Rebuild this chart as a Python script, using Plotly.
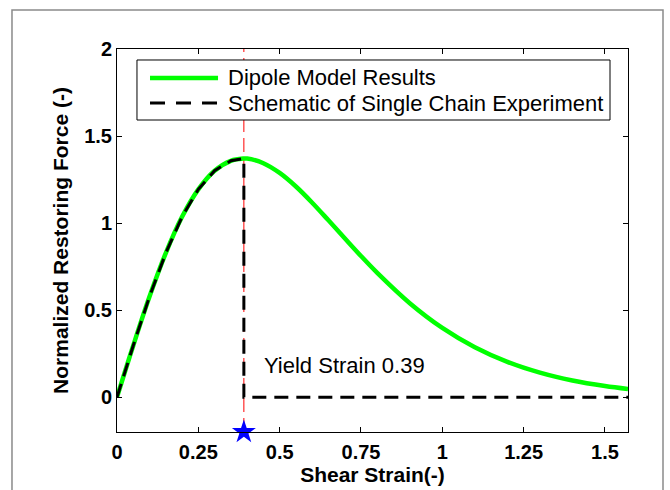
import plotly.graph_objects as go

# Data
strain = [0.0, 0.05, 0.1, 0.15, 0.2, 0.25, 0.3, 0.35, 0.39, 0.4, 0.45, 0.5, 0.55, 0.6,
          0.65, 0.7, 0.75, 0.8, 0.9, 1.0, 1.1, 1.2, 1.3, 1.4, 1.5, 1.5708]
force = [0.0, 0.297, 0.578, 0.828, 1.036, 1.194, 1.301, 1.358, 1.371, 1.371, 1.344, 1.288,
         1.210, 1.117, 1.016, 0.913, 0.811, 0.714, 0.540, 0.398, 0.287, 0.203, 0.141,
         0.096, 0.064, 0.047]
yield_strain = 0.39
x_max = 1.5708
schem_x = [0.0, 0.05, 0.1, 0.15, 0.2, 0.25, 0.3, 0.35, 0.39, 0.39, 1.5708]
schem_y = [0.0, 0.297, 0.578, 0.828, 1.036, 1.194, 1.301, 1.358, 1.371, 0.0, 0.0]
x_ticks = [0, 0.25, 0.5, 0.75, 1, 1.25, 1.5]
x_ticktext = ["0", "0.25", "0.5", "0.75", "1", "1.25", "1.5"]
y_ticks = [0, 0.5, 1, 1.5, 2]
y_ticktext = ["0", "0.5", "1", "1.5", "2"]
legend_names = ["Dipole Model Results", "Schematic of Single Chain Experiment"]

FONT = "Liberation Sans, Arial, sans-serif"
GREEN = "#00FF00"

fig = go.Figure()

# red thin dashed vertical line at yield strain
fig.add_trace(go.Scatter(x=[yield_strain, yield_strain], y=[-0.2, 2], mode="lines",
                         line=dict(color="red", width=1, dash="14px,6px"),
                         showlegend=False, hoverinfo="skip"))

fig.add_trace(go.Scatter(x=strain, y=force, mode="lines", name=legend_names[0],
                         line=dict(color=GREEN, width=4.5, shape="spline"),
                         showlegend=False))

fig.add_trace(go.Scatter(x=schem_x, y=schem_y, mode="lines", name=legend_names[1],
                         line=dict(color="black", width=3, dash="14px,8px"),
                         showlegend=False))

fig.add_trace(go.Scatter(x=[yield_strain], y=[-0.2], mode="markers",
                         marker=dict(symbol="star", size=18, color="blue"),
                         showlegend=False, cliponaxis=False))

fig.add_annotation(x=0.445, y=0.184, xref="x", yref="y", text="Yield Strain 0.39",
                   showarrow=False, xanchor="left", yanchor="middle",
                   font=dict(family=FONT, size=22, color="black"))

# manual MATLAB-style legend
fig.add_shape(type="rect", xref="paper", yref="paper", x0=0.0391, x1=0.9648,
              y0=0.8146, y1=0.9713, line=dict(color="black", width=1),
              fillcolor="white", layer="above")
fig.add_shape(type="line", xref="paper", yref="paper", x0=0.0646, x1=0.1977,
              y0=0.9243, y1=0.9243, line=dict(color=GREEN, width=4.5), layer="above")
fig.add_shape(type="line", xref="paper", yref="paper", x0=0.0646, x1=0.1977,
              y0=0.859, y1=0.859, line=dict(color="black", width=3, dash="15px,11px"),
              layer="above")
for name, yy in zip(legend_names, [0.9243, 0.859]):
    fig.add_annotation(x=0.2133, y=yy, xref="paper", yref="paper", text=name,
                       showarrow=False, xanchor="left", yanchor="middle",
                       font=dict(family=FONT, size=22, color="black"))

# outer grey frame
fig.add_shape(type="rect", xref="paper", yref="paper", x0=-0.2055, x1=1.0685,
              y0=-0.2, y1=1.1018, line=dict(color="#8a8a8a", width=1.5), layer="below")

axis_common = dict(showline=True, linecolor="black", linewidth=1, mirror="ticks",
                   ticks="inside", ticklen=5, tickcolor="black", showgrid=False,
                   zeroline=False, automargin=False,
                   tickfont=dict(family=FONT, size=20, color="black"))

fig.update_xaxes(range=[0, x_max], tickvals=x_ticks,
                 ticktext=["<b>%s</b>" % t for t in x_ticktext],
                 ticklabelstandoff=2,
                 title=dict(text="<b>Shear Strain(-)</b>", standoff=3,
                            font=dict(family=FONT, size=21, color="black")),
                 **axis_common)
fig.update_yaxes(range=[-0.2, 2], tickvals=y_ticks,
                 ticktext=["<b>%s</b>" % t for t in y_ticktext],
                 title=dict(text="<b>Normalized Restoring Force (-)</b>", standoff=9,
                            font=dict(family=FONT, size=21, color="black")),
                 **axis_common)

fig.update_layout(
    width=670, height=490,
    margin=dict(l=117, r=42, t=49, b=58, autoexpand=False),
    paper_bgcolor="white", plot_bgcolor="white",
    font=dict(family=FONT, size=16, color="black"),
    showlegend=False,
)

fig.write_html("out.html")
